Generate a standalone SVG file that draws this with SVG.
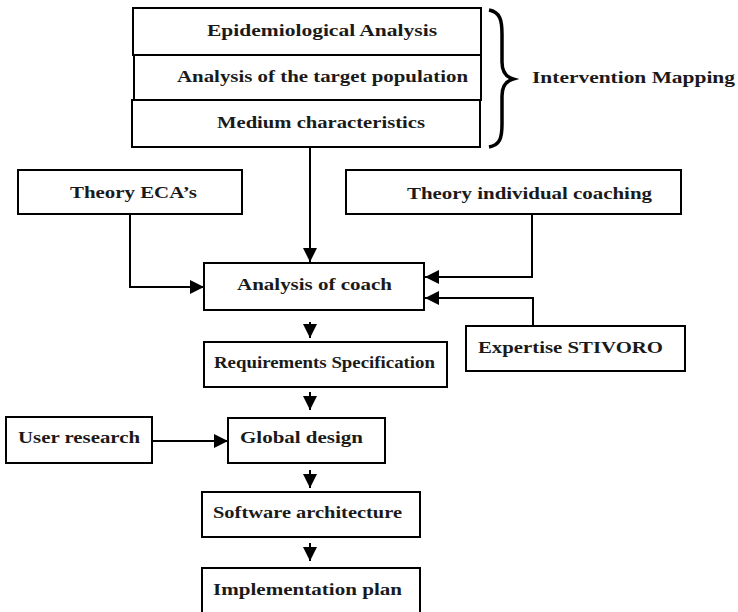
<svg xmlns="http://www.w3.org/2000/svg" width="738" height="612" viewBox="0 0 738 612">
  <style>
    .box { fill: #ffffff; stroke: #000000; stroke-width: 2; }
    .lbl { font-family: "Liberation Serif", "Times New Roman", serif; font-weight: bold; font-size: 17.5px; fill: #1a1a1a; }
    .wire { fill: none; stroke: #000000; stroke-width: 2; }
  </style>
  <defs>
    <marker id="arrow" viewBox="0 0 14 14" refX="14" refY="7" markerWidth="14" markerHeight="14" markerUnits="userSpaceOnUse" orient="auto">
      <path d="M0,0 L14,7 L0,14 Z" fill="#000000"/>
    </marker>
  </defs>
  <rect width="738" height="612" fill="#ffffff"/>

  <!-- Intervention Mapping stack -->
  <g id="epidemiological-analysis">
    <rect class="box" x="133" y="8" width="348" height="47"/>
    <text class="lbl" x="207" y="36" textLength="230" lengthAdjust="spacingAndGlyphs">Epidemiological Analysis</text>
  </g>
  <g id="target-population">
    <rect class="box" x="134" y="55" width="347" height="45"/>
    <text class="lbl" x="177" y="82" textLength="291" lengthAdjust="spacingAndGlyphs">Analysis of the target population</text>
  </g>
  <g id="medium-characteristics">
    <rect class="box" x="132" y="100" width="348" height="47"/>
    <text class="lbl" x="217" y="128" textLength="208" lengthAdjust="spacingAndGlyphs">Medium characteristics</text>
  </g>
  <g id="intervention-mapping">
    <path d="M489,10 C500,12 502,20 502,34 L502,62 C502,72 506,77 513,79 C506,81 502,86 502,96 L502,124 C502,138 500,145 489,147" fill="none" stroke="#000000" stroke-width="3.5"/>
    <text class="lbl" x="532" y="83" textLength="203" lengthAdjust="spacingAndGlyphs">Intervention  Mapping</text>
  </g>

  <!-- Theory inputs -->
  <g id="theory-ecas">
    <rect class="box" x="18" y="170" width="224" height="44"/>
    <text class="lbl" x="70" y="198" textLength="127" lengthAdjust="spacingAndGlyphs">Theory ECA’s</text>
  </g>
  <g id="theory-coaching">
    <rect class="box" x="346" y="170" width="335" height="44"/>
    <text class="lbl" x="407" y="199" textLength="245" lengthAdjust="spacingAndGlyphs">Theory individual coaching</text>
  </g>

  <g id="analysis-of-coach">
    <rect class="box" x="204" y="263" width="220" height="47"/>
    <text class="lbl" x="237" y="290" textLength="155" lengthAdjust="spacingAndGlyphs">Analysis of coach</text>
  </g>
  <g id="expertise-stivoro">
    <rect class="box" x="466" y="326" width="219" height="45"/>
    <text class="lbl" x="478" y="353" textLength="185" lengthAdjust="spacingAndGlyphs">Expertise STIVORO</text>
  </g>
  <g id="requirements-specification">
    <rect class="box" x="204" y="342" width="243" height="45"/>
    <text class="lbl" x="214" y="368" textLength="221" lengthAdjust="spacingAndGlyphs">Requirements Specification</text>
  </g>
  <g id="user-research">
    <rect class="box" x="6" y="417" width="146" height="46"/>
    <text class="lbl" x="18" y="443" textLength="122" lengthAdjust="spacingAndGlyphs">User research</text>
  </g>
  <g id="global-design">
    <rect class="box" x="228" y="418" width="157" height="45"/>
    <text class="lbl" x="240" y="443" textLength="123" lengthAdjust="spacingAndGlyphs">Global design</text>
  </g>
  <g id="software-architecture">
    <rect class="box" x="202" y="492" width="218" height="45"/>
    <text class="lbl" x="213" y="518" textLength="189" lengthAdjust="spacingAndGlyphs">Software architecture</text>
  </g>
  <g id="implementation-plan">
    <rect class="box" x="202" y="568" width="218" height="46"/>
    <text class="lbl" x="213" y="595" textLength="189" lengthAdjust="spacingAndGlyphs">Implementation plan</text>
  </g>

  <!-- Connectors -->
  <g id="connectors">
    <path class="wire" d="M310,147 L310,262" marker-end="url(#arrow)"/>
    <path class="wire" d="M130,214 L130,287 L204,287" marker-end="url(#arrow)"/>
    <path class="wire" d="M532,214 L532,277 L425,277" marker-end="url(#arrow)"/>
    <path class="wire" d="M533,326 L533,298 L425,298" marker-end="url(#arrow)"/>
    <path class="wire" d="M310,322 L310,338" marker-end="url(#arrow)"/>
    <path class="wire" d="M310,392 L310,410" marker-end="url(#arrow)"/>
    <path class="wire" d="M152,441 L228,441" marker-end="url(#arrow)"/>
    <path class="wire" d="M310,470 L310,488" marker-end="url(#arrow)"/>
    <path class="wire" d="M310,543 L310,561" marker-end="url(#arrow)"/>
  </g>
</svg>
